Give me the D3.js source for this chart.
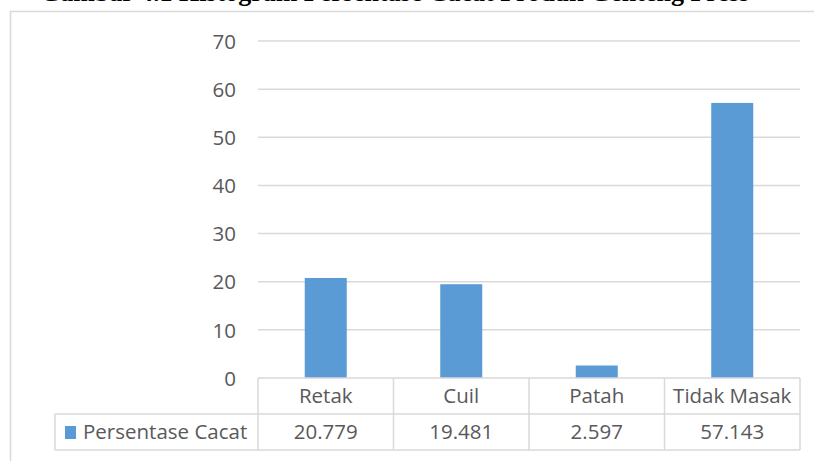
<!DOCTYPE html>
<html>
<head>
<meta charset="utf-8">
<script src="https://d3js.org/d3.v7.min.js"></script>
<style>
  body { margin: 0; background: #fff; }
  svg { display: block; }
</style>
</head>
<body>
<div id="chart"></div>
<script>
// chart data
var categories = ["Retak", "Cuil", "Patah", "Tidak Masak"];
var values = [20.779, 19.481, 2.597, 57.143];
var valueLabels = ["20.779", "19.481", "2.597", "57.143"];
var seriesName = "Persentase Cacat";
var yTicks = [0, 10, 20, 30, 40, 50, 60, 70];
var caption = "Gambar 4.1 Histogram Persentase Cacat Produk Genteng Press";

var width = 814, height = 461;
var font = "'Open Sans', sans-serif";
var fontSize = 20.5;
var barColor = "#5B9BD5";
var gridColor = "#d9d9d9";
var textColor = "#595959";

var svg = d3.select("#chart").append("svg")
    .attr("width", width)
    .attr("height", height);

// caption, mostly cut off at the top of the picture
svg.append("text")
    .attr("x", 40)
    .attr("y", 0.5)
    .attr("font-family", "'Liberation Serif', serif")
    .attr("font-weight", "bold")
    .attr("font-size", 26)
    .attr("fill", "#000")
    .text(caption);

// chart frame
svg.append("rect")
    .attr("x", 10.5)
    .attr("y", 11.5)
    .attr("width", 820)
    .attr("height", 470)
    .attr("fill", "#fff")
    .attr("stroke", gridColor)
    .attr("stroke-width", 1.5);

var plotLeft = 258, plotRight = 800;

var x = d3.scaleBand()
    .domain(categories)
    .range([plotLeft, plotRight])
    .paddingInner(0.69)
    .paddingOuter(0.345);

var y = d3.scaleLinear()
    .domain([0, 70])
    .range([378, 41]);

// gridlines
svg.append("g")
    .selectAll("line")
    .data(yTicks.filter(function (d) { return d > 0; }))
    .enter()
    .append("line")
    .attr("x1", plotLeft)
    .attr("x2", plotRight)
    .attr("y1", function (d) { return y(d); })
    .attr("y2", function (d) { return y(d); })
    .attr("stroke", gridColor)
    .attr("stroke-width", 1.5);

// y axis labels
var yAxis = d3.axisLeft(y).tickValues(yTicks).tickSize(0).tickPadding(0);
var gy = svg.append("g")
    .attr("transform", "translate(236,0)")
    .call(yAxis);
gy.select(".domain").remove();
gy.selectAll("text")
    .attr("font-family", font)
    .attr("font-size", fontSize)
    .attr("fill", textColor)
    .attr("dy", "0.35em");

// bars
svg.append("g")
    .selectAll("rect")
    .data(values)
    .enter()
    .append("rect")
    .attr("x", function (d, i) { return x(categories[i]); })
    .attr("width", x.bandwidth())
    .attr("y", function (d) { return y(d); })
    .attr("height", function (d) { return y(0) - y(d); })
    .attr("fill", barColor);

// data table
var step = x.step();
var rowTop = 378, rowMid = 414, rowBottom = 450, legendLeft = 55;
var table = svg.append("g")
    .attr("stroke", gridColor)
    .attr("stroke-width", 1.5)
    .attr("fill", "none");

table.append("line").attr("x1", plotLeft).attr("x2", plotRight).attr("y1", rowTop).attr("y2", rowTop);
table.append("line").attr("x1", legendLeft).attr("x2", plotRight).attr("y1", rowMid).attr("y2", rowMid);
table.append("line").attr("x1", legendLeft).attr("x2", plotRight).attr("y1", rowBottom).attr("y2", rowBottom);
table.append("line").attr("x1", legendLeft).attr("x2", legendLeft).attr("y1", rowMid).attr("y2", rowBottom);

var colEdges = [plotLeft].concat(categories.map(function (c) { return x(c) - step * x.paddingInner() / 2 + step; }));
colEdges[colEdges.length - 1] = plotRight;
table.selectAll(".vline")
    .data(colEdges)
    .enter()
    .append("line")
    .attr("class", "vline")
    .attr("x1", function (d) { return d; })
    .attr("x2", function (d) { return d; })
    .attr("y1", rowTop)
    .attr("y2", rowBottom);

var labels = svg.append("g")
    .attr("font-family", font)
    .attr("font-size", fontSize)
    .attr("fill", textColor)
    .attr("text-anchor", "middle");

labels.selectAll(".cat")
    .data(categories)
    .enter()
    .append("text")
    .attr("class", "cat")
    .attr("x", function (d) { return x(d) + x.bandwidth() / 2; })
    .attr("y", (rowTop + rowMid) / 2)
    .attr("dy", "0.35em")
    .text(function (d) { return d; });

labels.selectAll(".val")
    .data(valueLabels)
    .enter()
    .append("text")
    .attr("class", "val")
    .attr("x", function (d, i) { return x(categories[i]) + x.bandwidth() / 2; })
    .attr("y", (rowMid + rowBottom) / 2)
    .attr("dy", "0.35em")
    .text(function (d) { return d; });

// legend key
svg.append("rect")
    .attr("x", 65)
    .attr("y", 426)
    .attr("width", 11)
    .attr("height", 13)
    .attr("fill", barColor);

svg.append("text")
    .attr("x", 83)
    .attr("y", (rowMid + rowBottom) / 2)
    .attr("dy", "0.35em")
    .attr("font-family", font)
    .attr("font-size", fontSize)
    .attr("fill", textColor)
    .text(seriesName);
</script>
</body>
</html>
